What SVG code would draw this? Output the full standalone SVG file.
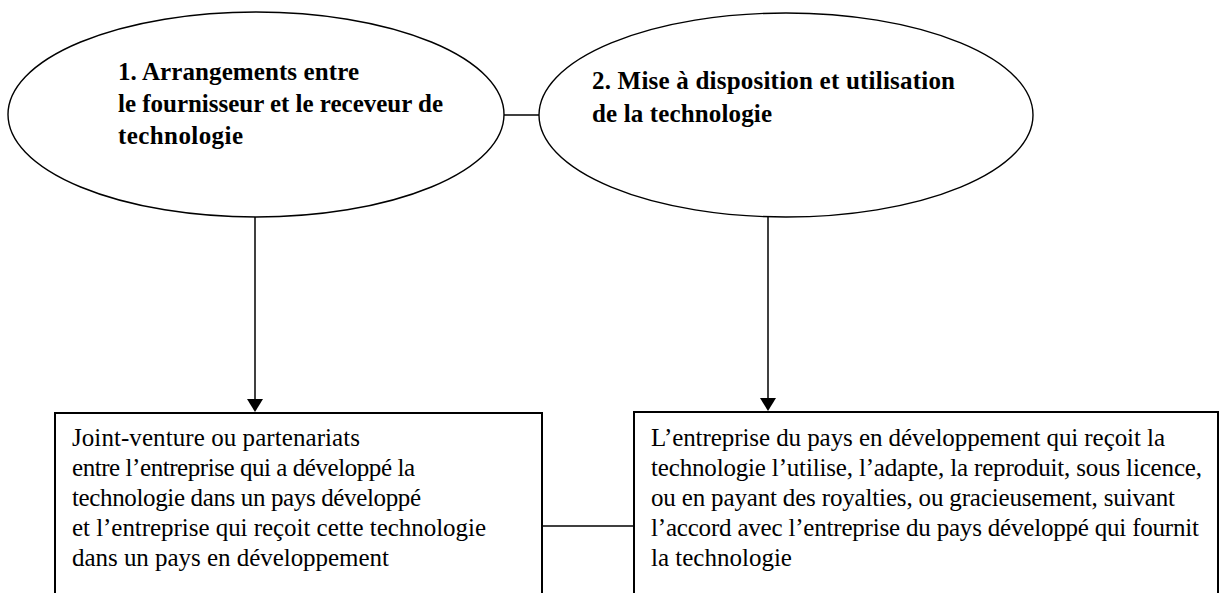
<svg xmlns="http://www.w3.org/2000/svg" width="1219" height="593" viewBox="0 0 1219 593">
<style>
.ell{fill:#fff;stroke:#000;stroke-width:1.4}
.box{fill:#fff;stroke:#000;stroke-width:2}
.conn{stroke:#000;stroke-width:1.5;fill:none}
.head{font-family:"Liberation Serif",serif;font-weight:bold;font-size:25px;fill:#000}
.body{font-family:"Liberation Serif",serif;font-size:25px;fill:#000}
</style>
<rect width="1219" height="593" fill="#fff"/>
<g id="node-ellipse1">
<ellipse class="ell" cx="256" cy="114.5" rx="248" ry="102.5"/>
<text class="head" x="118" y="80" textLength="241">1. Arrangements entre</text>
<text class="head" x="118" y="112" textLength="325">le fournisseur et le receveur de</text>
<text class="head" x="118" y="144" textLength="125">technologie</text>
</g>
<g id="node-ellipse2">
<ellipse class="ell" cx="786" cy="115" rx="247" ry="102"/>
<text class="head" x="592" y="89" textLength="363">2. Mise à disposition et utilisation</text>
<text class="head" x="592" y="122" textLength="180">de la technologie</text>
</g>
<g id="node-box1">
<rect class="box" x="55" y="413" width="487" height="220"/>
<text class="body" x="72" y="446" textLength="288">Joint-venture ou partenariats</text>
<text class="body" x="72" y="476" textLength="343">entre l’entreprise qui a développé la</text>
<text class="body" x="72" y="506" textLength="349">technologie dans un pays développé</text>
<text class="body" x="72" y="536" textLength="414">et l’entreprise qui reçoit cette technologie</text>
<text class="body" x="72" y="566" textLength="317">dans un pays en développement</text>
</g>
<g id="node-box2">
<rect class="box" x="634" y="412" width="584" height="220"/>
<text class="body" x="651" y="446" textLength="514">L’entreprise du pays en développement qui reçoit la</text>
<text class="body" x="651" y="476" textLength="551">technologie l’utilise, l’adapte, la reproduit, sous licence,</text>
<text class="body" x="651" y="506" textLength="524">ou en payant des royalties, ou gracieusement, suivant</text>
<text class="body" x="651" y="536" textLength="548">l’accord avec l’entreprise du pays développé qui fournit</text>
<text class="body" x="651" y="566">la technologie</text>
</g>
<g id="connectors">
<line class="conn" x1="504" y1="115" x2="539" y2="115"/>
<line class="conn" x1="542" y1="526" x2="634" y2="526"/>
<line class="conn" x1="255" y1="217" x2="255" y2="400"/>
<polygon points="247,399 263,399 255,412" fill="#000"/>
<line class="conn" x1="768" y1="217" x2="768" y2="399"/>
<polygon points="760,398 776,398 768,411" fill="#000"/>
</g>
</svg>
